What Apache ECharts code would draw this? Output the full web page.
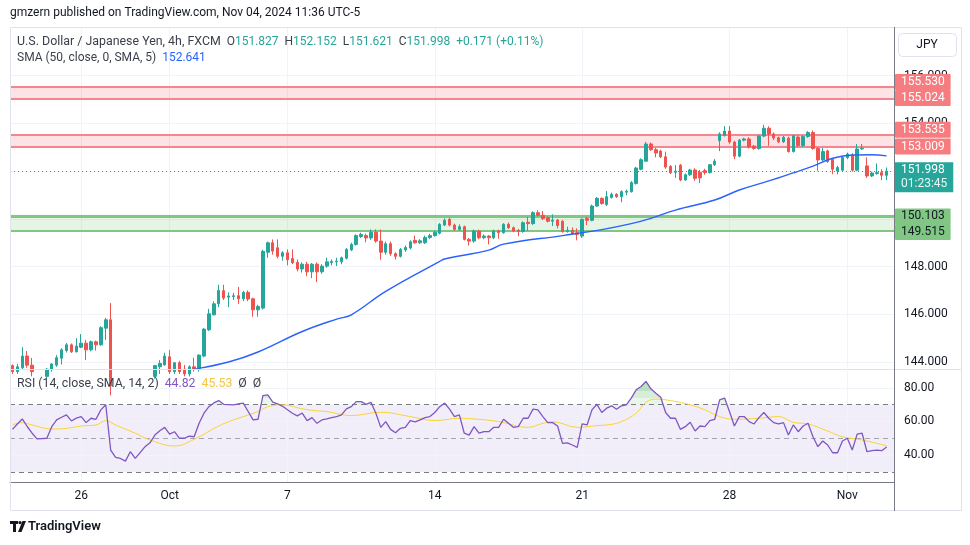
<!DOCTYPE html>
<html><head><meta charset="utf-8">
<script src="https://cdn.jsdelivr.net/npm/echarts@6/dist/echarts.min.js"></script>
<style>html,body{margin:0;padding:0;background:#fff}#c{width:970px;height:545px}</style>
</head><body><div id="c"></div>
<script>
// ---------------- data ----------------
const barCount = 180;
const tickIndex = [14, 32, 56, 86, 116, 146, 170];
const tickLabels = ['26', 'Oct', '7', '14', '21', '28', 'Nov'];
const priceTicks = [144, 146, 148, 150, 152, 154, 156];
const rsiTicks = [40, 60, 80];
const rsiBands = [70, 50, 30];
const resistanceZones = [[155.024, 155.530], [153.009, 153.535]];
const supportZone = [149.515, 150.103];
const supportExtraLine = 150.17;
const lastPrice = 151.998;
const countdown = '01:23:45';
const symbolTitle = 'U.S. Dollar / Japanese Yen, 4h, FXCM';
const smaTitle = 'SMA (50, close, 0, SMA, 5)';
const rsiTitle = 'RSI (14, close, SMA, 14, 2)';

// [open, high, low, close]
const candles = [
[143.85,143.90,143.50,143.60],[143.60,143.92,143.50,143.80],[143.76,144.62,143.70,144.25],[144.25,144.46,143.76,143.87],
[143.87,144.17,143.40,143.60],[143.60,143.70,143.10,143.30],[143.30,143.60,143.20,143.40],[143.40,143.75,143.30,143.70],
[143.70,143.95,143.60,143.92],[143.87,144.29,143.80,144.18],[144.16,144.58,143.90,144.51],[144.48,144.80,144.40,144.72],
[144.72,144.78,144.38,144.43],[144.43,145.00,144.40,144.67],[144.62,145.17,144.58,144.79],[144.79,144.93,144.08,144.51],
[144.51,144.90,144.45,144.85],[144.85,144.90,144.48,144.72],[144.72,145.50,144.68,145.44],[145.42,145.85,144.93,145.77],
[145.77,146.47,142.60,143.00],[143.00,143.30,142.50,142.70],[142.70,142.90,142.20,142.40],[142.40,142.60,142.00,142.20],
[142.20,142.70,142.00,142.50],[142.50,142.60,142.10,142.30],[142.30,142.40,141.70,142.00],[142.00,142.80,141.80,142.60],
[142.60,143.60,142.50,143.40],[143.40,143.88,143.30,143.85],[143.80,144.08,143.50,143.94],[143.88,144.39,143.85,144.25],
[144.22,144.50,143.50,143.60],[143.60,144.00,143.50,143.97],[143.97,144.05,143.50,143.60],[143.70,143.88,143.40,143.50],
[143.50,143.86,143.40,143.80],[143.80,144.18,143.60,143.70],[143.70,144.32,143.60,144.29],[144.25,145.42,144.20,145.38],
[145.35,146.23,145.30,146.02],[145.98,146.54,145.95,146.44],[146.44,147.24,146.30,147.00],[146.99,147.24,146.60,146.68],
[146.72,146.92,146.30,146.77],[146.74,146.90,146.60,146.78],[146.78,147.15,146.44,146.65],[146.65,146.98,146.55,146.92],
[146.92,147.00,146.55,146.64],[146.65,146.70,145.90,146.19],[146.19,146.40,145.90,146.33],[146.26,148.70,146.20,148.64],
[148.60,149.05,148.37,149.00],[149.00,149.14,148.50,148.65],[148.79,149.14,148.35,148.43],[148.43,148.65,148.25,148.58],
[148.58,148.72,148.05,148.29],[148.34,148.72,148.10,148.16],[148.18,148.30,147.80,147.90],[147.90,148.18,147.75,148.10],
[148.10,148.20,147.60,147.78],[147.78,148.15,147.52,148.10],[148.10,148.18,147.35,147.78],[147.78,148.10,147.70,148.02],
[148.02,148.37,147.95,148.20],[148.17,148.30,148.05,148.22],[148.20,148.37,148.02,148.23],[148.20,148.42,148.10,148.37],
[148.35,148.78,148.30,148.72],[148.70,149.00,148.65,148.93],[148.93,149.35,148.88,149.30],[149.26,149.42,149.20,149.35],
[149.30,149.38,149.02,149.20],[149.20,149.56,149.12,149.44],[149.44,149.56,149.00,149.07],[149.07,149.56,148.29,148.60],
[148.60,149.05,148.50,148.96],[148.96,149.05,148.45,148.54],[148.54,148.60,148.30,148.43],[148.43,148.78,148.38,148.72],
[148.70,148.88,148.62,148.80],[148.78,149.10,148.72,149.04],[149.10,149.30,148.95,149.00],[149.00,149.15,148.95,149.08],
[149.00,149.30,148.95,149.22],[149.22,149.38,149.15,149.30],[149.30,149.50,149.25,149.44],[149.40,149.82,149.35,149.77],
[149.74,150.02,149.70,149.94],[149.98,150.05,149.68,149.74],[149.74,149.80,149.50,149.56],[149.56,149.77,149.50,149.67],
[149.67,149.72,149.10,149.14],[149.14,149.20,148.88,149.07],[149.07,149.55,149.00,149.49],[149.49,149.55,149.15,149.21],
[149.21,149.35,149.15,149.28],[149.28,149.32,148.93,149.21],[149.21,149.55,149.15,149.49],[149.49,149.55,149.17,149.42],
[149.42,149.82,149.38,149.77],[149.77,149.85,149.58,149.63],[149.63,149.68,149.44,149.49],[149.52,149.58,149.27,149.47],
[149.47,149.90,149.42,149.84],[149.86,150.09,149.49,149.80],[149.80,150.32,149.75,150.26],[150.26,150.36,150.10,150.15],
[150.15,150.33,149.95,150.01],[150.05,150.10,149.85,149.90],[149.90,150.19,149.70,149.95],[149.95,150.00,149.60,149.72],
[149.90,149.95,149.42,149.47],[149.47,149.67,149.42,149.52],[149.52,149.64,149.33,149.38],[149.42,149.60,149.10,149.35],
[149.28,150.02,149.20,149.98],[150.02,150.09,149.74,149.94],[149.94,150.60,149.90,150.54],[150.54,150.92,150.50,150.86],
[150.86,150.90,150.60,150.64],[150.60,151.17,150.54,150.93],[150.90,151.10,150.85,151.03],[151.03,151.08,150.88,150.93],
[150.93,151.20,150.70,151.14],[151.12,151.22,150.99,151.16],[151.14,151.58,151.10,151.52],[151.48,152.18,151.44,152.13],
[152.08,152.54,152.04,152.48],[152.42,153.23,152.38,153.14],[153.14,153.20,152.85,152.90],[152.90,152.97,152.58,152.76],
[152.84,152.90,152.55,152.60],[152.60,152.82,152.10,152.17],[152.20,152.25,151.88,151.93],[151.95,152.25,151.72,152.00],
[152.25,152.30,151.58,151.63],[151.63,151.90,151.60,151.85],[151.85,152.10,151.80,152.05],[152.05,152.12,151.60,151.70],
[151.95,152.05,151.50,151.72],[152.02,152.10,151.85,151.94],[151.94,152.30,151.90,152.27],[152.27,152.50,152.22,152.42],
[153.28,153.63,152.84,153.56],[153.50,153.89,153.45,153.68],[153.68,153.89,153.15,153.22],[153.22,153.27,152.50,152.63],
[152.63,153.35,152.58,153.30],[153.30,153.40,153.25,153.35],[153.35,153.42,152.95,153.01],[153.05,153.10,152.90,152.95],
[152.95,153.52,152.90,153.47],[153.47,153.94,153.42,153.80],[153.80,153.88,153.06,153.56],[153.56,153.62,153.30,153.39],
[153.40,153.45,153.18,153.23],[153.23,153.48,153.18,153.42],[153.38,153.45,152.78,152.82],[152.82,153.52,152.78,153.48],
[153.43,153.50,153.00,153.07],[153.07,153.50,153.02,153.45],[153.45,153.68,153.40,153.62],[153.62,153.70,152.90,152.95],
[152.95,153.00,152.01,152.47],[152.47,152.97,152.40,152.82],[152.85,152.90,152.35,152.40],[152.50,152.55,151.87,152.08],
[152.01,152.22,151.87,152.15],[152.04,152.62,152.00,152.57],[152.57,152.78,152.50,152.72],[152.68,152.75,151.98,152.04],
[152.04,153.14,152.00,152.93],[152.93,153.14,152.90,152.96],[152.22,152.58,151.72,151.80],[151.80,151.98,151.75,151.92],
[151.90,152.32,151.85,151.94],[151.94,152.08,151.62,151.827],[151.827,152.152,151.621,151.998]
];

// SMA(50) read at sample bars: [barIndex, value]
const smaPoints = [
[37,143.70],[44,144.00],[50,144.42],[59,145.28],[66,145.80],[69,145.98],[76,146.96],[87,148.22],[88,148.32],
[97,148.69],[100,148.94],[112,149.30],[120,149.55],[126,149.80],[130,150.02],[135,150.37],[143,150.79],
[148,151.21],[154,151.59],[159,151.93],[163,152.21],[167,152.54],[171,152.68],[175,152.69],[178,152.641]
];

// RSI(14), one value per bar
const rsi = [
55.3,58.5,61.5,57,53,49.6,49.8,50,56.9,60.9,62.5,63.9,60.3,62,62.9,59.3,61.9,61.3,66.9,69.9,
43,38.6,38,36.4,42,38,41.5,45,47.3,51.9,54.5,56.5,52.5,53.9,50,50,51.3,50.9,58.9,64.9,
68.8,71,72.4,70.2,70,69.9,70.5,70.9,65.9,60.9,61.3,75.4,75.8,71.5,70.5,69,67,64.9,63.3,65,
60.5,62.3,58.9,60.9,61.5,62.3,62.9,63.9,67.5,68.8,71.8,71.8,70.2,71.4,64.9,56.5,59.9,55.3,53.3,55.9,
56.5,60.5,59.7,60.9,62.3,62.9,65.3,68.8,70.9,67.3,62.9,63.9,53,51.9,56.9,53,53.9,53.9,56.5,56.5,
61.3,58.9,56.5,56.9,61.9,61.9,67.3,66.9,62.9,59.3,59.3,57.3,47,47.3,46,44.6,58.5,57.9,66.9,70.2,
65.3,67.9,69.3,67.3,69.3,69.9,73.9,78.8,80.8,83.8,79.4,76.8,74.4,65.3,61.9,61.9,55.3,56.9,59.5,54.3,
57.3,56.9,60.5,61.3,72.8,73.9,65.9,57.3,62.9,62.9,59.9,58.5,62.3,65.3,61.9,59.3,58.5,59.3,51.9,57.9,
53.9,57.3,58.9,50.9,45,48.4,46,41.4,41.4,48.4,50,43,52.5,53,42,42.6,43,42.6,44.82
];

// SMA(14) of RSI read at sample bars: [barIndex, value]
const rsiSmaPoints = [
[0,57.9],[2,59.3],[4,57.9],[8,55.5],[11,55.9],[14,57.3],[17,57.9],[19,60.5],[21,57.9],[25,53],[28,49],
[33,45.4],[37,49.4],[42,57.3],[45,60.9],[50,65.9],[52,68.8],[55,69.9],[59,67.5],[62,66.3],[64,65.9],
[69,63.5],[75,65.5],[81,62.9],[86,60.5],[91,61.9],[94,61.5],[99,59.9],[105,56.5],[108,58.9],[110,59.9],
[115,56.5],[119,57.5],[122,58.3],[124,59.9],[127,64.9],[129,71.4],[131,73.3],[134,72.4],[138,69.9],
[141,66.9],[144,62.9],[147,61.3],[152,61.9],[156,62.9],[159,59.5],[162,58.5],[166,54.3],[169,50.9],
[173,49],[178,45.53]
];

// ---------------- chart ----------------
const FONT = 'Roboto, "Liberation Sans", Arial, sans-serif';
const TXT = '#131722';
const LEG = '#3B3F4A';
const UP = '#26A69A', DOWN = '#EF5350';
const PINK_LINE = '#F7858D', PINK_FILL = 'rgba(242,54,69,0.14)', PINK_BOX = '#F77C80';
const GREEN_LINE = '#81C784', GREEN_FILL = 'rgba(76,175,80,0.14)';
const GRID_C = '#F0F3FA';

const cats = Array.from({ length: barCount }, (_, i) => String(i));
const kData = candles.map(([o, h, l, c]) => [o, c, l, h]);
const last = candles[candles.length - 1];
const prevClose = candles[candles.length - 2][3];
const chg = last[3] - prevClose;
const pct = chg / prevClose * 100;
const f3 = v => v.toFixed(3);
const sg = v => (v >= 0 ? '+' : '');
const smaLast = smaPoints[smaPoints.length - 1][1];
const rsiLast = rsi[rsi.length - 1];
const rsiSmaLast = rsiSmaPoints[rsiSmaPoints.length - 1][1];

function zoneLine(v, color, bg, txtColor, dy) {
  return {
    yAxis: v,
    lineStyle: { color: color, width: 2, type: 'solid' },
    label: {
      show: true, position: 'end', distance: 1, formatter: f3(v),
      backgroundColor: bg, color: txtColor, padding: [1, 6, 1, 6], lineHeight: 14,
      fontFamily: FONT, fontSize: 12, offset: [0, dy], borderRadius: 1
    }
  };
}

const series = [];
// main pane grid lines
series.push({
  type: 'line', name: 'gridMain', xAxisIndex: 0, yAxisIndex: 0, data: [], silent: true, z: 0,
  markLine: {
    silent: true, symbol: 'none', z: 0, animation: false, label: { show: false },
    lineStyle: { color: GRID_C, width: 1, type: 'solid' },
    data: priceTicks.map(v => ({ yAxis: v })).concat(tickIndex.map(i => ({ xAxis: i })))
  }
});
// zones
series.push({
  type: 'line', name: 'zones', xAxisIndex: 0, yAxisIndex: 0, data: [], silent: true, z: 1,
  markArea: {
    silent: true, z: 1, animation: false,
    data: resistanceZones.map(([lo, hi]) => [{ yAxis: lo, itemStyle: { color: PINK_FILL } }, { yAxis: hi }])
      .concat([[{ yAxis: supportZone[0], itemStyle: { color: GREEN_FILL } }, { yAxis: supportExtraLine }]])
  },
  markLine: {
    silent: true, symbol: 'none', z: 1.5, animation: false,
    data: [
      zoneLine(resistanceZones[0][1], PINK_LINE, PINK_BOX, '#fff', -5),
      zoneLine(resistanceZones[0][0], PINK_LINE, PINK_BOX, '#fff', -1),
      zoneLine(resistanceZones[1][1], PINK_LINE, PINK_BOX, '#fff', -5),
      zoneLine(resistanceZones[1][0], PINK_LINE, PINK_BOX, '#fff', -0.5),
      zoneLine(supportZone[1], GREEN_LINE, GREEN_LINE, TXT, 0),
      zoneLine(supportZone[0], GREEN_LINE, GREEN_LINE, TXT, 1.5),
      { yAxis: supportExtraLine, lineStyle: { color: GREEN_LINE, width: 1.2, type: 'solid' }, label: { show: false } }
    ]
  }
});
// candles
series.push({
  type: 'candlestick', name: 'USDJPY', xAxisIndex: 0, yAxisIndex: 0, data: kData, barWidth: 3, z: 2, clip: true,
  itemStyle: { color: UP, color0: DOWN, borderColor: UP, borderColor0: DOWN, borderWidth: 1 }
});
// SMA
series.push({
  type: 'line', name: 'SMA', xAxisIndex: 0, yAxisIndex: 0, data: smaPoints, smooth: 0.4, showSymbol: false,
  lineStyle: { color: '#2962FF', width: 1.4 }, z: 3, silent: true
});
// last price
series.push({
  type: 'line', name: 'last', xAxisIndex: 0, yAxisIndex: 0, data: [], silent: true, z: 5,
  markLine: {
    silent: true, symbol: 'none', z: 5, animation: false,
    data: [{
      yAxis: lastPrice, lineStyle: { color: UP, width: 1, type: [1, 3] },
      label: {
        show: true, position: 'end', distance: 1, backgroundColor: UP, padding: [1, 6, 1, 6], offset: [0, 6],
        formatter: '{a|' + f3(lastPrice) + '}\n{b|' + countdown + '}',
        rich: {
          a: { color: '#fff', fontFamily: FONT, fontSize: 12, lineHeight: 14 },
          b: { color: 'rgba(255,255,255,0.9)', fontFamily: FONT, fontSize: 12, lineHeight: 14 }
        }
      }
    }]
  }
});
// RSI pane grid, band, levels
series.push({
  type: 'line', name: 'gridRsi', xAxisIndex: 1, yAxisIndex: 1, data: [], silent: true, z: 0,
  markArea: { silent: true, z: 0.5, data: [[{ yAxis: rsiBands[2], itemStyle: { color: 'rgba(126,87,194,0.1)' } }, { yAxis: rsiBands[0] }]] },
  markLine: {
    silent: true, symbol: 'none', z: 1, animation: false, label: { show: false },
    data: rsiTicks.map(v => ({ yAxis: v, lineStyle: { color: GRID_C, width: 1, type: 'solid' } }))
      .concat(tickIndex.map(i => ({ xAxis: i, lineStyle: { color: GRID_C, width: 1, type: 'solid' } })))
      .concat(rsiBands.map(v => ({ yAxis: v, lineStyle: { color: v === 50 ? '#A3A6AF' : '#787B86', width: 1, type: [5, 4] } })))
  }
});
// RSI overbought fill
const fillIndex = series.length;
series.push({
  type: 'line', name: 'rsiFill', xAxisIndex: 1, yAxisIndex: 1, data: rsi, showSymbol: false, silent: true, z: 1.5,
  lineStyle: { width: 1, opacity: 0 }, areaStyle: { origin: rsiBands[0], opacity: 1 }
});
// RSI SMA
series.push({
  type: 'line', name: 'rsiSma', xAxisIndex: 1, yAxisIndex: 1, data: rsiSmaPoints, smooth: 0.4, showSymbol: false,
  lineStyle: { color: '#F9D331', width: 1 }, z: 3, silent: true
});
// RSI
series.push({
  type: 'line', name: 'RSI', xAxisIndex: 1, yAxisIndex: 1, data: rsi, showSymbol: false,
  lineStyle: { color: '#7E57C2', width: 1.3 }, z: 4, silent: true
});

const axisLab = { fontFamily: FONT, fontSize: 12, color: TXT };

const option = {
  animation: false,
  textStyle: { fontFamily: FONT },
  grid: [
    { left: 10, right: 76, top: 28, height: 340 },
    { left: 10, right: 76, top: 371, height: 111 }
  ],
  visualMap: [{
    type: 'piecewise', show: false, seriesIndex: fillIndex, dimension: 1,
    pieces: [
      { lte: 70, color: 'rgba(255,255,255,0)' },
      { gt: 70, lte: 74, color: 'rgba(76,175,80,0.12)' },
      { gt: 74, lte: 78, color: 'rgba(76,175,80,0.22)' },
      { gt: 78, color: 'rgba(76,175,80,0.36)' }
    ]
  }],
  xAxis: [
    { type: 'category', gridIndex: 0, data: cats, boundaryGap: true, axisLine: { show: false }, axisTick: { show: false }, axisLabel: { show: false }, splitLine: { show: false } },
    {
      type: 'category', gridIndex: 1, data: cats, boundaryGap: true,
      axisLine: { show: true, lineStyle: { color: '#787B86' } }, axisTick: { show: false }, splitLine: { show: false },
      axisLabel: Object.assign({ interval: (i) => tickIndex.includes(i), formatter: (v, i) => { const k = tickIndex.indexOf(i); return k >= 0 ? tickLabels[k] : ''; }, margin: 8 }, axisLab)
    }
  ],
  yAxis: [
    {
      type: 'value', gridIndex: 0, position: 'right', min: 143.75, max: 158, interval: 0.25, scale: true,
      axisLine: { show: false }, axisTick: { show: false }, splitLine: { show: false },
      axisLabel: Object.assign({ margin: 10, formatter: v => priceTicks.some(t => Math.abs(t - v) < 1e-6) ? f3(v) : '' }, axisLab)
    },
    {
      type: 'value', gridIndex: 1, position: 'right', min: 24, max: 90, interval: 2,
      axisLine: { show: false }, axisTick: { show: false }, splitLine: { show: false },
      axisLabel: Object.assign({ margin: 10, formatter: v => rsiTicks.some(t => Math.abs(t - v) < 1e-6) ? v.toFixed(2) : '' }, axisLab)
    }
  ],
  series: series,
  graphic: [
    { type: 'text', left: 10, top: 7, style: { text: 'gmzern published on TradingView.com, Nov 04, 2024 11:36 UTC-5', font: '12px ' + FONT, fill: TXT } },
    { type: 'rect', shape: { x: 10.5, y: 27.5, width: 951, height: 483 }, style: { fill: 'none', stroke: '#E0E3EB', lineWidth: 1 }, silent: true, z: 10 },
    { type: 'line', shape: { x1: 10, y1: 369.5, x2: 962, y2: 369.5 }, style: { stroke: '#E0E3EB', lineWidth: 1 }, silent: true, z: 10 },
    { type: 'line', shape: { x1: 894.5, y1: 27, x2: 894.5, y2: 511 }, style: { stroke: '#787B86', lineWidth: 1 }, silent: true, z: 10 },
    { type: 'rect', shape: { x: 898.5, y: 33.5, width: 58, height: 23, r: 4 }, style: { fill: '#fff', stroke: '#E0E3EB', lineWidth: 1 }, z: 10 },
    { type: 'text', x: 927, y: 45, style: { text: 'JPY', font: '12px ' + FONT, fill: TXT, align: 'center', verticalAlign: 'middle' }, z: 11 },
    {
      type: 'text', x: 17, y: 42, z: 11,
      style: {
        text: '{t|' + symbolTitle + '}  {k|O}{v|' + f3(last[0]) + '}  {k|H}{v|' + f3(last[1]) + '}  {k|L}{v|' + f3(last[2]) + '}  {k|C}{v|' + f3(last[3]) + '}  {v|' + sg(chg) + chg.toFixed(3) + ' (' + sg(pct) + pct.toFixed(2) + '%)}',
        verticalAlign: 'middle', font: '12px ' + FONT,
        rich: { t: { fill: LEG, font: '12.4px ' + FONT }, k: { fill: LEG, font: '12px ' + FONT }, v: { fill: UP, font: '12px ' + FONT } }
      }
    },
    {
      type: 'text', x: 17, y: 58, z: 11,
      style: {
        text: '{t|' + smaTitle + '}  {b|' + f3(smaLast) + '}', verticalAlign: 'middle', font: '12px ' + FONT,
        rich: { t: { fill: LEG, font: '12px ' + FONT }, b: { fill: '#2962FF', font: '12px ' + FONT } }
      }
    },
    {
      type: 'text', x: 17, y: 384, z: 11,
      style: {
        text: '{t|' + rsiTitle + '}  {p|' + rsiLast.toFixed(2) + '}  {y|' + rsiSmaLast.toFixed(2) + '}  {t|\u00D8}  {t|\u00D8}', verticalAlign: 'middle', font: '12px ' + FONT,
        rich: { t: { fill: LEG, font: '12.3px ' + FONT }, p: { fill: '#7E57C2', font: '12.3px ' + FONT }, y: { fill: '#F2C744', font: '12.3px ' + FONT } }
      }
    },
    // TradingView logo
    { type: 'rect', shape: { x: 10, y: 521, width: 8, height: 3 }, style: { fill: TXT } },
    { type: 'rect', shape: { x: 13, y: 521, width: 3, height: 11 }, style: { fill: TXT } },
    { type: 'circle', shape: { cx: 20, cy: 522.6, r: 1.6 }, style: { fill: TXT } },
    { type: 'polygon', shape: { points: [[22.5, 521], [26, 521], [21.5, 532], [18, 532]] }, style: { fill: TXT } },
    { type: 'text', x: 28, y: 527, style: { text: 'TradingView', font: '600 13px ' + FONT, fill: TXT, verticalAlign: 'middle' } }
  ]
};
const chart = echarts.init(document.getElementById('c'));
chart.setOption(option);
</script>
</body></html>
